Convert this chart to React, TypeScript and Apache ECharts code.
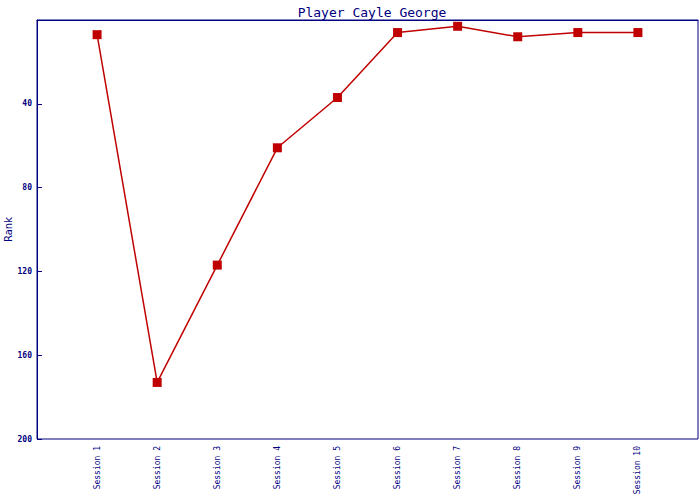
import React, { useEffect, useRef } from "react";
import * as echarts from "echarts";

const sessions = ["", "Session 1", "Session 2", "Session 3", "Session 4", "Session 5", "Session 6", "Session 7", "Session 8", "Session 9", "Session 10", ""];
const ranks: (number | null)[] = [null, 7, 173, 117, 61, 37, 6, 3, 8, 6, 6, null];
const titleText = "Player Cayle George";
const yName = "Rank";

export default function App() {
  const ref = useRef<HTMLDivElement>(null);
  useEffect(() => {
    const chart = echarts.init(ref.current!, null, { renderer: "svg" });
    const navy = "#000080";
    const mono = "DejaVu Sans Mono";
    chart.setOption({
      animation: false,
      backgroundColor: "#ffffff",
      title: {
        text: titleText,
        left: 367,
        textAlign: "center",
        top: 1,
        textStyle: { fontFamily: mono, fontSize: 13, fontWeight: "normal", color: navy },
      },
      grid: {
        left: 37,
        top: 20,
        right: 2,
        bottom: 61,
        containLabel: false,
        outerBoundsMode: "none",
        show: true,
        borderColor: navy,
        borderWidth: 1,
        backgroundColor: "#ffffff",
      },
      xAxis: {
        type: "category",
        data: sessions,
        boundaryGap: false,
        axisLine: { lineStyle: { color: navy, width: 1 } },
        axisTick: { show: false },
        axisLabel: {
          interval: 0,
          rotate: 90,
          margin: 7,
          fontFamily: mono,
          fontSize: 8,
          color: navy,
        },
        splitLine: { show: false },
      },
      yAxis: {
        type: "value",
        inverse: true,
        min: 0,
        max: 200,
        interval: 40,
        name: yName,
        nameLocation: "middle",
        nameGap: 24,
        nameMoveOverlap: false,
        nameTextStyle: { fontFamily: "DejaVu Sans", fontSize: 10, color: navy },
        axisLine: { show: true, lineStyle: { color: navy, width: 1 } },
        axisTick: { show: true, inside: true, length: 5, lineStyle: { color: navy, width: 1 } },
        axisLabel: {
          fontFamily: mono,
          fontSize: 8,
          color: navy,
          margin: 5,
          fontWeight: "bold",
          formatter: (v: number) => (v === 0 ? "" : String(v)),
        },
        splitLine: { show: false },
      },
      series: [
        {
          type: "line",
          data: ranks,
          connectNulls: false,
          symbol: "rect",
          symbolSize: 9,
          lineStyle: { color: "#c00000", width: 1.5 },
          itemStyle: { color: "#c00000" },
        },
      ],
    });
    return () => chart.dispose();
  }, []);
  return <div ref={ref} style={{ width: 700, height: 500, position: "absolute", left: 0, top: 0 }} />;
}
